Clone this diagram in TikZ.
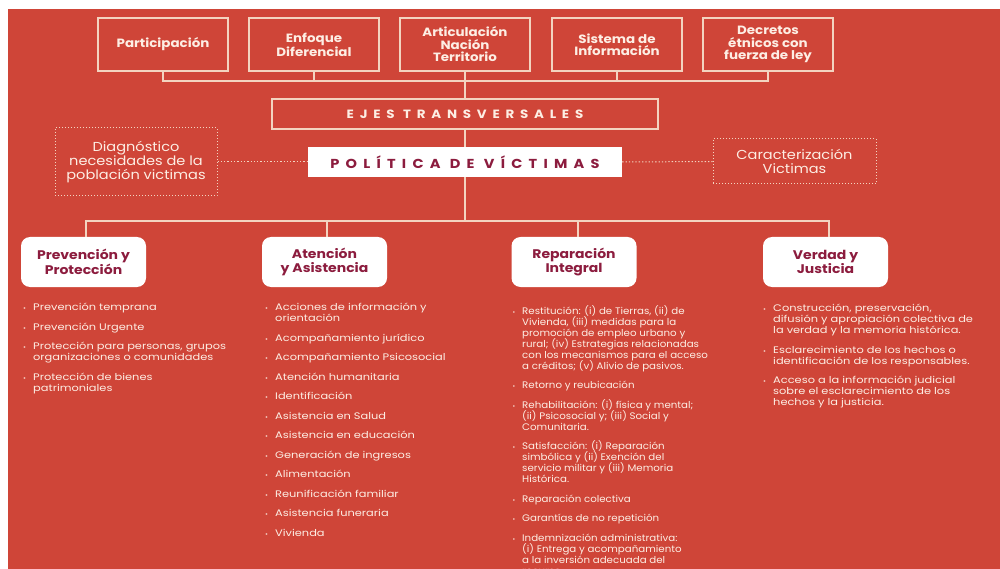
\documentclass[tikz,border=0pt]{standalone}
\usepackage{fontspec}
\setmainfont{Poppins}[FakeStretch=1.12]
\newfontfamily\spacedfont{Poppins}[LetterSpace=48,FakeStretch=1.12]
\newfontfamily\lista{Poppins}[FakeStretch=1.2]
\newfontfamily\listb{Poppins}[FakeStretch=1.08]
\definecolor{bg}{RGB}{207,69,56}
\definecolor{ln}{RGB}{243,212,192}
\definecolor{tx}{RGB}{253,238,228}
\definecolor{mr}{RGB}{140,28,62}
\newcommand\bl{\strut\llap{{\fontsize{6}{6}\selectfont\textbullet}\hspace{7pt}}}
\newcommand\nols{\lineskiplimit=-20pt\relax\lineskip=0pt\relax}
\newcommand\lfonta{\lista\fontsize{9.5}{11}\selectfont\nols}
\newcommand\lfontb{\listb\fontsize{9.5}{11}\selectfont\nols}
\begin{document}
\begin{tikzpicture}[x=1pt,y=-1pt,
  topbox/.style={draw=ln, line width=1.3pt, minimum width=130pt, minimum height=53pt, align=center, text=tx, font=\fontsize{12}{12.5}\selectfont\bfseries, inner sep=2pt},
  conn/.style={draw=ln, line width=1.3pt},
  dotbox/.style={draw=ln, dotted, line width=1pt, align=center, text=tx, font=\fontsize{13}{14}\selectfont, inner sep=2pt},
  catbox/.style={fill=white, rounded corners=9pt, minimum width=125pt, minimum height=50pt, align=center, text=mr, font=\fontsize{12.5}{13.5}\selectfont\bfseries},
  lst/.style={anchor=north west, inner sep=0pt, align=left, text=tx},
  lfa/.style={font=\lfonta},
  lfb/.style={font=\lfontb}]
\useasboundingbox (0,0) rectangle (1000,569);
\fill[white] (0,0) rectangle (1000,569);
\fill[bg] (8,9) rectangle (1000,569);

% top boxes
\node[topbox] (b1) at (163,44.5) {Participación};
\node[topbox] (b2) at (314,44.5) {Enfoque\\Diferencial};
\node[topbox] (b3) at (465,44.5) {Articulación\\Nación\\Territorio};
\node[topbox] (b4) at (617,44.5) {Sistema de\\Información};
\node[topbox] (b5) at (768,44.5) {Decretos\\étnicos con\\fuerza de ley};

\node[draw=ln, line width=1.3pt, minimum width=386pt, minimum height=30pt, text=tx, font=\spacedfont\fontsize{12}{13}\selectfont\bfseries] (ejes) at (465,114) {EJES TRANSVERSALES};
\node[fill=white, minimum width=314pt, minimum height=30pt, text=mr, font=\spacedfont\fontsize{13}{14}\selectfont\bfseries] (pol) at (465,162) {POLÍTICA DE VÍCTIMAS};

\node[dotbox, minimum width=162pt, minimum height=68pt] (diag) at (136,162) {Diagnóstico\\necesidades de la\\población victimas};
\node[dotbox, minimum width=163pt, minimum height=45pt] (car) at (794.5,161.5) {Caracterización\\Victimas};

\node[catbox] (c1) at (83.5,262) {Prevención y\\Protección};
\node[catbox] (c2) at (324.5,262) {Atención\\y Asistencia};
\node[catbox] (c3) at (574,262) {Reparación\\Integral};
\node[catbox] (c4) at (825.5,262) {Verdad y\\Justicia};

% connectors
\coordinate (tl) at (465,81);
\draw[conn] (b1.south) -- (b1.south |- tl) -- (b5.south |- tl) -- (b5.south);
\foreach \n in {b2,b3,b4} \draw[conn] (\n.south) -- (\n.south |- tl);
\draw[conn] (tl) -- (ejes.north);
\draw[conn] (ejes.south) -- (pol.north);
\draw[conn, dotted, line width=1pt] (diag.east) -- (pol.west);
\draw[conn, dotted, line width=1pt] (pol.east) -- (car.west);
\coordinate (ml) at (465,221);
\draw[conn] (pol.south) -- (ml);
\draw[conn] ([xshift=2.5pt]c1.north) -- ([xshift=2.5pt]c1.north |- ml) -- ([xshift=3.5pt]c4.north |- ml) -- ([xshift=3.5pt]c4.north);
\draw[conn] ([xshift=2.5pt]c2.north) -- ([xshift=2.5pt]c2.north |- ml);
\draw[conn] ([xshift=4pt]c3.north) -- ([xshift=4pt]c3.north |- ml);

% lists
\node[lst,lfa] (l1) at (33,303) {\bl Prevención temprana\\[8.5pt]
\bl Prevención Urgente\\[8.5pt]
\bl Protección para personas, grupos\\ organizaciones o comunidades\\[8.5pt]
\bl Protección de bienes\\ patrimoniales};

\node[lst,lfa] (l2) at (275,303) {\bl Acciones de información y\\ orientación\\[8.5pt]
\bl Acompañamiento jurídico\\[8.5pt]
\bl Acompañamiento Psicosocial\\[8.5pt]
\bl Atención humanitaria\\[8.5pt]
\bl Identificación\\[8.5pt]
\bl Asistencia en Salud\\[8.5pt]
\bl Asistencia en educación\\[8.5pt]
\bl Generación de ingresos\\[8.5pt]
\bl Alimentación\\[8.5pt]
\bl Reunificación familiar\\[8.5pt]
\bl Asistencia funeraria\\[8.5pt]
\bl Vivienda};

\node[lst,lfb] (l3) at (522,305) {\bl Restitución: (i) de Tierras, (ii) de\\ Vivienda, (iii) medidas para la\\ promoción de empleo urbano y\\ rural; (iv) Estrategias relacionadas\\ con los mecanismos para el acceso\\ a créditos; (v) Alivio de pasivos.\\[8.5pt]
\bl Retorno y reubicación\\[8.5pt]
\bl Rehabilitación: (i) física y mental;\\ (ii) Psicosocial y; (iii) Social y\\ Comunitaria.\\[8.5pt]
\bl Satisfacción: (i) Reparación\\ simbólica y (ii) Exención del\\ servicio militar y (iii) Memoria\\ Histórica.\\[8.5pt]
\bl Reparación colectiva\\[8.5pt]
\bl Garantías de no repetición\\[8.5pt]
\bl Indemnización administrativa:\\ (i) Entrega y acompañamiento\\ a la inversión adecuada del\\ recurso.};

\node[lst,lfa] (l4) at (773,304) {\bl Construcción, preservación,\\ difusión y apropiación colectiva de\\ la verdad y la memoria histórica.\\[8.5pt]
\bl Esclarecimiento de los hechos o\\ identificación de los responsables.\\[8.5pt]
\bl Acceso a la información judicial\\ sobre el esclarecimiento de los\\ hechos y la justicia.};
\end{tikzpicture}
\end{document}
